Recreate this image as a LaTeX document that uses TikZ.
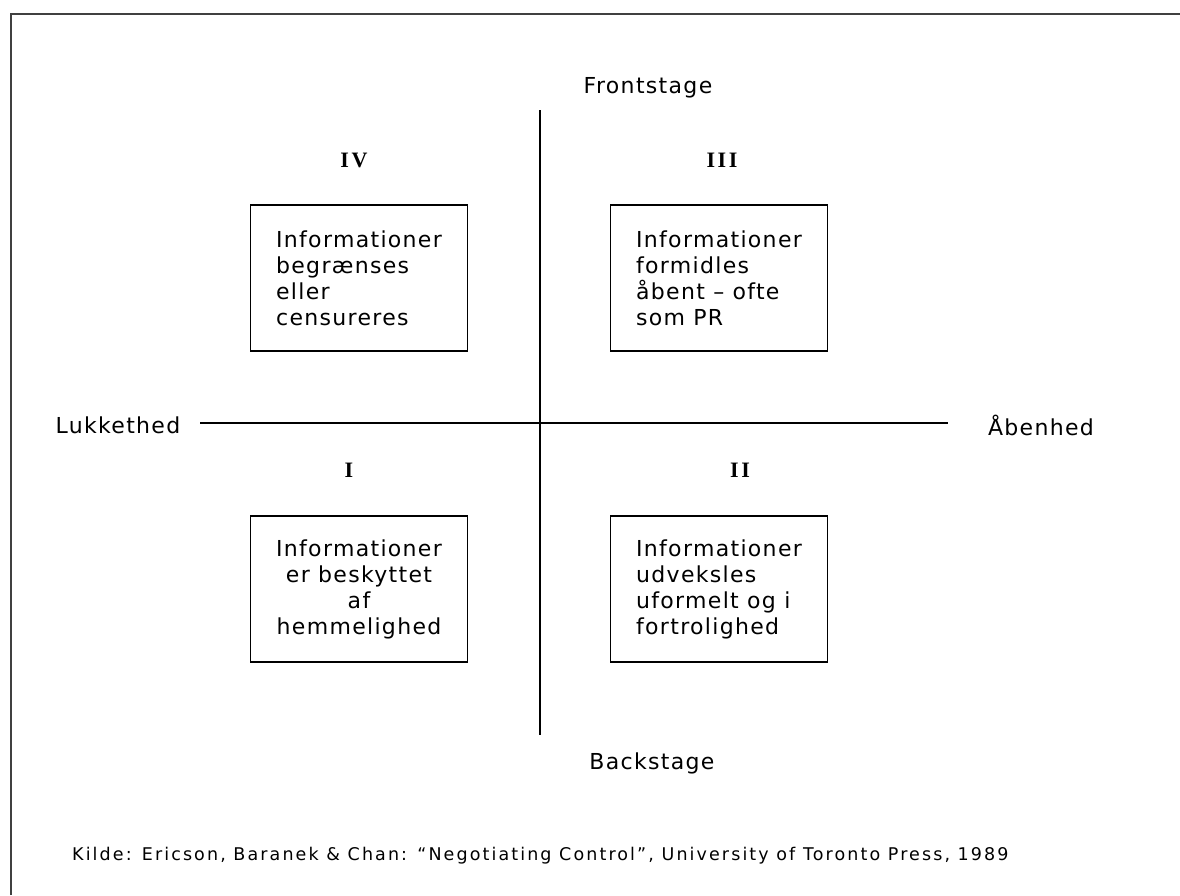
\documentclass[tikz,border=0pt]{standalone}
\usepackage{fontspec}
\setmainfont{DejaVu Sans}[LetterSpace=6]
\newfontfamily\citefont{DejaVu Sans}[LetterSpace=12]
\newfontfamily\numfont{Liberation Serif}[LetterSpace=12]
\begin{document}
\begin{tikzpicture}[x=1pt,y=-1pt,
  frameline/.style={draw=black!75,line width=2pt},
  axis/.style={draw=black,line width=1.3pt},
  infobox/.style={draw=black,line width=1.3pt,minimum width=217pt,minimum height=146pt,inner sep=0pt,font=\fontsize{22}{26}\selectfont},
  axlabel/.style={inner sep=0pt,font=\fontsize{22}{26}\selectfont},
  numlabel/.style={inner sep=0pt,font=\numfont\bfseries\fontsize{22}{26}\selectfont},
  cite/.style={inner sep=0pt,anchor=west,font=\citefont\fontsize{17.5}{20}\selectfont}]
\useasboundingbox (0,0) rectangle (1180,895);
\fill[white] (0,0) rectangle (1180,895);
% outer frame (only left and top edges visible)
\coordinate (fbl) at (11,895);
\coordinate (ftl) at (11,14);
\coordinate (ftr) at (1180,14);
\draw[frameline] (fbl) -- (ftl) -- (ftr);
% axes
\coordinate (atop) at (540,110);
\coordinate (abot) at (540,735);
\coordinate (aleft) at (200,423);
\coordinate (aright) at (948,423);
\draw[axis] (atop) -- (abot);
\draw[axis] (aleft) -- (aright);
% axis labels
\node[axlabel] (front) at (648,88) {Frontstage};
\node[axlabel] (back) at (652,763) {Backstage};
\node[axlabel] (closed) at (118,425) {Lukkethed};
\node[axlabel] (open) at (1041,425) {Åbenhed};
% quadrant numerals
\node[numlabel] (nIV) at (354,160) {IV};
\node[numlabel] (nIII) at (722,160) {III};
\node[numlabel] (nI) at (349,470) {I};
\node[numlabel] (nII) at (740,470) {II};
% boxes
\node[infobox,align=left] (bIV) at (359,278) {Informationer\\begrænses\\eller\\censureres};
\node[infobox,align=left] (bIII) at (719,278) {Informationer\\formidles\\åbent – ofte\\som PR};
\node[infobox,align=center] (bI) at (359,589) {Informationer\\er beskyttet\\af\\hemmelighed};
\node[infobox,align=left] (bII) at (719,589) {Informationer\\udveksles\\uformelt og i\\fortrolighed};
% source
\node[cite] (src) at (72,856) {Kilde: Ericson, Baranek \& Chan: “Negotiating Control”, University of Toronto Press, 1989};
\end{tikzpicture}
\end{document}
